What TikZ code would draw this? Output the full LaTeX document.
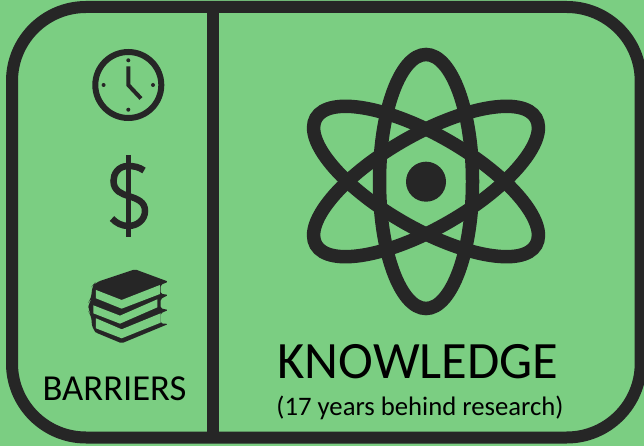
\documentclass[tikz,border=0pt]{standalone}
\usepackage{fontspec}
\setmainfont{Carlito}
\definecolor{bggreen}{HTML}{7BCE82}
\definecolor{ink}{HTML}{262626}
\tikzset{
  px/.style={x=1bp,y=-1bp},
  ink line/.style={draw=ink,line width=#1},
  label text/.style={inner sep=0pt,text=black,anchor=base},
  zb/.style={shift={(70,150)},x=0.3333bp,y=-0.3333bp}
}
\begin{document}
\begin{tikzpicture}[px]
\useasboundingbox (0,0) rectangle (644,446);
\fill[bggreen] (0,0) rectangle (644,446);
% frame
\draw[ink line=12bp,rounded corners=74bp] (12,7) rectangle (640.7,437.5);
\draw[ink line=12bp] (213,7) -- (213,437.5);
% clock
\draw[ink line=6bp] (128.3,85) circle[radius=33];
\foreach \a in {0,90,180,270}
  \fill[ink] (128.3,85) ++(\a:24.7) circle[radius=2];
\draw[ink line=4bp] (128.3,66.5) -- (128.3,85) -- (141,98.5);
% dollar
\draw[ink line=5.5bp] (128.3,155) -- (128.3,237);
\draw[ink line=6.5bp] (144,170.5) .. controls (139,167) and (134,166) .. (128.3,166)
  .. controls (118,166) and (113.5,174) .. (113.5,181)
  .. controls (113.5,191) and (122,194) .. (128.3,196)
  .. controls (138,199) and (145,202) .. (145,211)
  .. controls (145,220) and (137,226) .. (128.3,226)
  .. controls (122,226) and (116,223) .. (112,218.5);
% books
\fill[ink,rounded corners=1.5bp,zb]
  (195,358) -- (295,395) -- (272,405) -- (272,431) -- (295,435) -- (272,447) -- (272,475)
  -- (295,480) -- (272,490) -- (272,520) -- (295,522) -- (155,580) -- (78,548)
  [rounded corners=6bp] -- (65,535) -- (65,497) -- (54,483) -- (57,455) -- (65,445)
  -- (65,410) -- (75,398) [rounded corners=1.5bp] -- cycle;
\fill[bggreen,zb] (78,420) -- (155,450) -- (270,405) -- (270,432) -- (155,476) -- (78,445) -- cycle;
\fill[bggreen,zb] (70,466) -- (150,497) -- (262,448) -- (262,472) -- (150,521) -- (70,490) -- cycle;
\fill[bggreen,zb] (78,505) -- (155,538) -- (272,490) -- (272,518) -- (155,565) -- (78,535) -- cycle;
% atom
\foreach \r in {0,60,-60}
  \draw[ink line=13.5bp,rotate around={\r:(426,181.5)}] (426,181.5) ellipse[x radius=46.5,y radius=127];
\fill[ink] (426,181.7) circle[radius=20];
% text
\node[label text,font=\fontsize{36.6bp}{36.6bp}\selectfont] (barriers) at (114.5,400.7) {BARRIERS};
\node[label text,font=\fontsize{52.5bp}{52.5bp}\selectfont] (knowledge) at (418,378) {KNOWLEDGE};
\node[label text,font=\fontsize{26.7bp}{26.7bp}\selectfont] (sub) at (420,415) {(17 years behind research)};
\end{tikzpicture}
\end{document}
